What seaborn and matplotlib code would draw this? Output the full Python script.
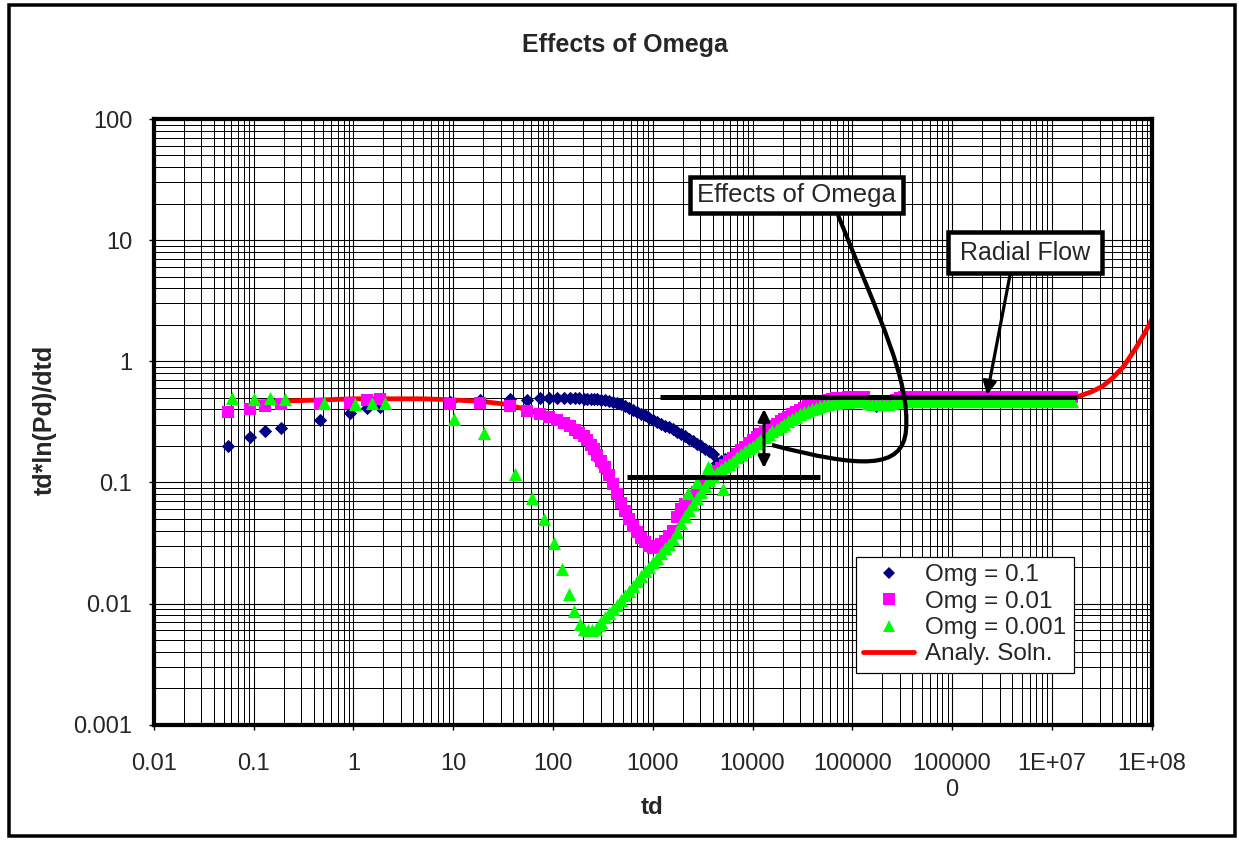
import matplotlib
matplotlib.use("Agg")
import matplotlib.pyplot as plt
import seaborn as sns
from matplotlib.transforms import Affine2D
from matplotlib.patches import FancyArrowPatch, PathPatch, Rectangle
from matplotlib.path import Path
from matplotlib.lines import Line2D
from matplotlib.ticker import LogLocator, NullFormatter, FixedLocator

# ---------------- data ----------------
# early output times (Omg = 0.1 and Omg = 0.01 share them)
td_early_a = [0.056, 0.092, 0.13, 0.187, 0.46, 0.92, 1.38, 1.84, 9.2, 18.4, 36.8, 55,
              74, 92, 110, 129, 147, 166, 184, 203, 221, 240, 258, 276]
# early output times for Omg = 0.001
td_early_b = [0.061, 0.1, 0.145, 0.205, 0.51, 1.03, 1.55, 2.07, 10.1, 20.6, 41.4, 61.7,
              82, 102, 123, 144, 164, 185, 205, 226, 246, 267, 287]
# later output times, shared by all three runs
td_late = [
    302, 331, 363, 398, 437, 479, 525, 575, 631, 692, 759, 832, 912,
    1000, 1100, 1200, 1320, 1450, 1580, 1740, 1910, 2090, 2290, 2510, 2750, 3020,
    3310, 3630, 3980, 4370, 4790, 5250, 5750, 6310, 6920, 7590, 8320, 9120,
    10000, 11000, 12000, 13200, 14500, 15800, 17400, 19100, 20900, 22900, 25100, 27500, 30200,
    33100, 36300, 39800, 43700, 47900, 52500, 57500, 63100, 69200, 75900, 83200, 91200,
    1.00e5, 1.10e5, 1.20e5, 1.32e5, 1.45e5, 1.58e5, 1.74e5, 1.91e5, 2.09e5, 2.29e5, 2.51e5, 2.75e5, 3.02e5,
    3.31e5, 3.63e5, 3.98e5, 4.37e5, 4.79e5, 5.25e5, 5.75e5, 6.31e5, 6.92e5, 7.59e5, 8.32e5, 9.12e5,
    1.00e6, 1.10e6, 1.20e6, 1.32e6, 1.45e6, 1.58e6, 1.74e6, 1.91e6, 2.09e6, 2.29e6, 2.51e6, 2.75e6, 3.02e6,
    3.31e6, 3.63e6, 3.98e6, 4.37e6, 4.79e6, 5.25e6, 5.75e6, 6.31e6, 6.92e6, 7.59e6, 8.32e6, 9.12e6,
    1.00e7, 1.10e7, 1.20e7, 1.32e7, 1.45e7, 1.58e7,
]

# Omg = 0.1
omg_01_early = [0.20, 0.237, 0.267, 0.284, 0.33, 0.377, 0.41, 0.42, 0.46, 0.48, 0.49, 0.48,
                0.50, 0.50, 0.50, 0.50, 0.50, 0.495, 0.495, 0.49, 0.49, 0.49, 0.485, 0.485]
omg_01_late = [
    0.48, 0.475, 0.468, 0.46, 0.45, 0.44, 0.425, 0.41, 0.397, 0.383, 0.37, 0.357, 0.343,
    0.33, 0.318, 0.306, 0.295, 0.285, 0.275, 0.263, 0.252, 0.241, 0.23, 0.219, 0.208, 0.198,
    0.189, 0.18, 0.172, 0.145, 0.15, 0.155, 0.16, 0.166, 0.172, 0.18, 0.19, 0.2,
    0.21, 0.22, 0.233, 0.246, 0.26, 0.274, 0.288, 0.302, 0.316, 0.33, 0.345, 0.36, 0.375,
    0.39, 0.405, 0.42, 0.432, 0.443, 0.453, 0.463, 0.47, 0.477, 0.483, 0.488, 0.49,
    0.493, 0.495, 0.495, 0.495, 0.45, 0.44, 0.425, 0.44, 0.45, 0.46, 0.47, 0.48, 0.495,
    0.50, 0.50, 0.50, 0.50, 0.50, 0.50, 0.50, 0.50, 0.50, 0.50, 0.50, 0.50,
    0.50, 0.50, 0.50, 0.50, 0.50, 0.50, 0.50, 0.50, 0.50, 0.50, 0.50, 0.50, 0.50,
    0.50, 0.50, 0.50, 0.50, 0.50, 0.50, 0.50, 0.50, 0.50, 0.50, 0.50, 0.50,
    0.50, 0.50, 0.50, 0.50, 0.50, 0.50,
]

# Omg = 0.01
omg_001_early = [0.38, 0.40, 0.43, 0.44, 0.44, 0.456, 0.48, 0.49, 0.44, 0.45, 0.43, 0.39,
                 0.37, 0.35, 0.33, 0.31, 0.29, 0.27, 0.255, 0.24, 0.225, 0.205, 0.19, 0.17]
omg_001_late = [
    0.15, 0.135, 0.115, 0.097, 0.08, 0.068, 0.058, 0.05, 0.044, 0.039, 0.035, 0.032, 0.030,
    0.029, 0.0295, 0.031, 0.033, 0.036, 0.04, 0.052, 0.06, 0.066, 0.071, 0.077, 0.084, 0.092,
    0.10, 0.109, 0.118, 0.125, 0.132, 0.14, 0.15, 0.16, 0.172, 0.185, 0.197, 0.21,
    0.222, 0.236, 0.25, 0.264, 0.278, 0.292, 0.306, 0.32, 0.335, 0.35, 0.365, 0.38, 0.395,
    0.41, 0.425, 0.44, 0.452, 0.463, 0.473, 0.482, 0.488, 0.494, 0.498, 0.501, 0.503,
    0.504, 0.505, 0.505, 0.505, 0.46, 0.45, 0.455, 0.45, 0.455, 0.45, 0.46, 0.48, 0.50,
    0.505, 0.505, 0.505, 0.505, 0.505, 0.505, 0.505, 0.505, 0.505, 0.505, 0.505, 0.505,
    0.505, 0.505, 0.505, 0.505, 0.505, 0.505, 0.505, 0.505, 0.505, 0.505, 0.505, 0.505, 0.505,
    0.505, 0.505, 0.505, 0.505, 0.505, 0.505, 0.505, 0.505, 0.505, 0.505, 0.505, 0.505,
    0.505, 0.505, 0.505, 0.505, 0.505, 0.505,
]

# Omg = 0.001
omg_0001_early = [0.50, 0.49, 0.50, 0.49, 0.456, 0.44, 0.456, 0.456, 0.336, 0.255, 0.118, 0.0744,
                  0.05, 0.0318, 0.0192, 0.0119, 0.0086, 0.0068, 0.0062, 0.006, 0.006, 0.0062, 0.0066]
omg_0001_late = [
    0.0071, 0.0077, 0.0083, 0.009, 0.0098, 0.0107, 0.0117, 0.0128, 0.014, 0.0153, 0.0168, 0.0184, 0.020,
    0.022, 0.024, 0.026, 0.029, 0.031, 0.034, 0.039, 0.046, 0.053, 0.059, 0.066, 0.074, 0.083,
    0.094, 0.104, 0.113, 0.121, 0.129, 0.136, 0.143, 0.15, 0.162, 0.172, 0.183, 0.192,
    0.20, 0.212, 0.224, 0.236, 0.25, 0.264, 0.278, 0.292, 0.306, 0.32, 0.335, 0.35, 0.365,
    0.378, 0.39, 0.402, 0.414, 0.425, 0.435, 0.443, 0.45, 0.455, 0.459, 0.462, 0.465,
    0.467, 0.468, 0.469, 0.47, 0.45, 0.44, 0.45, 0.44, 0.45, 0.44, 0.45, 0.46, 0.468,
    0.47, 0.47, 0.47, 0.47, 0.47, 0.47, 0.47, 0.47, 0.47, 0.47, 0.47, 0.47,
    0.47, 0.47, 0.47, 0.47, 0.47, 0.47, 0.47, 0.47, 0.47, 0.47, 0.47, 0.47, 0.47,
    0.47, 0.47, 0.47, 0.47, 0.47, 0.47, 0.47, 0.47, 0.47, 0.47, 0.47, 0.47,
    0.47, 0.47, 0.47, 0.47, 0.47, 0.47,
]
# scattered Omg = 0.001 outputs around the transition
td_0001_extra = [2230, 2800, 3460, 3590, 3720, 5060]
omg_0001_extra = [0.082, 0.10, 0.125, 0.135, 0.13, 0.088]

# analytical solution
td_analytic = [0.1, 0.2, 0.5, 1, 2, 5, 10, 20, 35, 60, 100, 160, 200, 280, 350, 400, 500, 600,
               750, 900, 1000, 1200, 1500, 2000, 2400, 3500, 5000, 7500, 11000, 16000, 24000,
               35000, 50000, 75000, 110000, 200000, 1e6, 1e7, 1.8e7, 2.5e7, 3.2e7, 4e7, 5.2e7,
               7e7, 8.5e7, 1e8]
dp_analytic = [0.46, 0.47, 0.48, 0.49, 0.49, 0.49, 0.48, 0.465, 0.44, 0.39, 0.33, 0.27, 0.235,
               0.145, 0.11, 0.088, 0.066, 0.052, 0.04, 0.033, 0.031, 0.032, 0.036, 0.048, 0.062,
               0.092, 0.123, 0.17, 0.23, 0.29, 0.36, 0.42, 0.46, 0.49, 0.5, 0.5, 0.5, 0.5, 0.51,
               0.56, 0.62, 0.72, 0.9, 1.3, 1.7, 2.2]

series_labels = ["Omg = 0.1", "Omg = 0.01", "Omg = 0.001", "Analy. Soln."]
series_colors = ["#000080", "#FF00FF", "#00FF00", "#FF0000"]

x_tick_values = [0.01, 0.1, 1, 10, 100, 1000, 1e4, 1e5, 1e6, 1e7, 1e8]
x_tick_labels = ["0.01", "0.1", "1", "10", "100", "1000", "10000", "100000",
                 "100000\n0", "1E+07", "1E+08"]
y_tick_values = [0.001, 0.01, 0.1, 1, 10, 100]
y_tick_labels = ["0.001", "0.01", "0.1", "1", "10", "100"]

# ---------------- figure ----------------
sns.set_style("white")
plt.rcParams["font.family"] = ["Liberation Sans", "DejaVu Sans"]

W, H = 1239, 841
fig = plt.figure(figsize=(W / 100, H / 100), dpi=100)
fig.patch.set_facecolor("white")

# pixel coordinates measured from the top-left corner of the canvas
pix = Affine2D().scale(1, -1).translate(0, H)
P = 0.72  # points per pixel at 100 dpi

left, right, top, bottom = 153.8, 1151.7, 119.0, 724.7
ax = fig.add_axes([left / W, 1 - bottom / H, (right - left) / W, (bottom - top) / H])
ax.set_facecolor("white")

sns.lineplot(x=td_analytic, y=dp_analytic, ax=ax, color=series_colors[3], lw=4.8 * P,
             sort=False, estimator=None, zorder=2, legend=False)
sns.scatterplot(x=td_early_a + td_late, y=omg_01_early + omg_01_late, ax=ax,
                marker="D", s=46, color=series_colors[0], linewidth=0, zorder=3, legend=False)
sns.scatterplot(x=td_early_a + td_late, y=omg_001_early + omg_001_late, ax=ax,
                marker="s", s=72, color=series_colors[1], linewidth=0, zorder=4, legend=False)
sns.scatterplot(x=td_early_b + td_late + td_0001_extra,
                y=omg_0001_early + omg_0001_late + omg_0001_extra, ax=ax,
                marker="^", s=90, color=series_colors[2], linewidth=0, zorder=5, legend=False)

ax.set_xscale("log")
ax.set_yscale("log")
ax.set_xlim(0.01, 1e8)
ax.set_ylim(0.001, 100)

ax.xaxis.set_major_locator(FixedLocator(x_tick_values))
ax.set_xticklabels(x_tick_labels)
ax.yaxis.set_major_locator(FixedLocator(y_tick_values))
ax.set_yticklabels(y_tick_labels)
for axis in (ax.xaxis, ax.yaxis):
    axis.set_minor_locator(LogLocator(base=10, subs=range(2, 10), numticks=200))
    axis.set_minor_formatter(NullFormatter())

ax.grid(True, which="major", color="black", lw=1.1 * P)
ax.grid(True, which="minor", color="black", lw=1.0 * P)
ax.set_axisbelow(True)

ax.tick_params(axis="x", which="major", direction="out", length=5 * P, width=1,
               color="black", labelsize=17, pad=16.5, bottom=True)
ax.tick_params(axis="y", which="major", direction="out", length=5 * P, width=1,
               color="black", labelsize=17, pad=12, left=True)
ax.tick_params(which="minor", length=0)
for lbl in ax.get_xticklabels():
    lbl.set_linespacing(1.25)

for sp in ax.spines.values():
    sp.set_visible(True)
    sp.set_color("black")
    sp.set_linewidth(4.2 * P)

# titles and axis names
fig.text(625, 45, "Effects of Omega", transform=pix, ha="center", va="center",
         fontsize=18, fontweight="bold")
fig.text(652, 808, "td", transform=pix, ha="center", va="center",
         fontsize=17.5, fontweight="bold")
fig.text(45, 420, "td*ln(Pd)/dtd", transform=pix, ha="center", va="center",
         fontsize=18, fontweight="bold", rotation=90)

# outer chart frame
fig.add_artist(Rectangle((9, 5), 1226, 831, transform=pix, fill=False,
                         ec="black", lw=3.5 * P))

# level markers and the spread arrow
fig.add_artist(Line2D([660, 1077], [397, 397], transform=pix, color="black",
                      lw=5 * P, zorder=6, solid_capstyle="butt"))
fig.add_artist(Line2D([627, 820], [476.7, 476.7], transform=pix, color="black",
                      lw=5 * P, zorder=6, solid_capstyle="butt"))
fig.add_artist(FancyArrowPatch((764, 409), (764, 468), transform=pix,
                               arrowstyle="<|-|>", mutation_scale=18,
                               lw=3 * P, color="black", shrinkA=0, shrinkB=0, zorder=6))

# "Effects of Omega" callout
fig.add_artist(Rectangle((690, 177), 213, 36, transform=pix, fc="white",
                         ec="black", lw=4.5 * P, zorder=7))
fig.text(796.5, 195, "Effects of Omega", transform=pix, ha="center", va="center",
         fontsize=18.5, zorder=8)
leader = Path([(838, 215), (880, 320), (910, 380), (906, 430),
               (903, 470), (860, 468), (772, 445)],
              [Path.MOVETO, Path.CURVE4, Path.CURVE4, Path.CURVE4,
               Path.CURVE4, Path.CURVE4, Path.CURVE4])
fig.add_artist(PathPatch(leader, transform=pix, fill=False, ec="black",
                         lw=4.2 * P, zorder=7))

# "Radial Flow" callout
fig.add_artist(Rectangle((948, 232), 154, 41, transform=pix, fc="white",
                         ec="black", lw=4.5 * P, zorder=7))
fig.text(1025, 252.5, "Radial Flow", transform=pix, ha="center", va="center",
         fontsize=18, zorder=8)
fig.add_artist(FancyArrowPatch((1010, 275), (987, 395), transform=pix,
                               arrowstyle="-|>", mutation_scale=20,
                               lw=3.2 * P, color="black", shrinkA=0, shrinkB=0, zorder=7))

# legend
handles = [
    Line2D([], [], ls="none", marker="D", ms=6.6, color=series_colors[0], mew=0),
    Line2D([], [], ls="none", marker="s", ms=8.2, color=series_colors[1], mew=0),
    Line2D([], [], ls="none", marker="^", ms=9.2, color=series_colors[2], mew=0),
    Line2D([], [], color=series_colors[3], lw=4.8 * P),
]
leg = ax.legend(handles, series_labels, loc="upper left",
                bbox_to_anchor=(856 / W, 1 - 557 / H), bbox_transform=fig.transFigure,
                fontsize=17.5, frameon=True, fancybox=False, framealpha=1,
                edgecolor="black", borderpad=0.3, labelspacing=0.18,
                handlelength=2.1, handletextpad=0.45, borderaxespad=0)
leg.get_frame().set_linewidth(1.2 * P)
leg.set_zorder(9)

fig.savefig("out.png", dpi=100, facecolor="white")
